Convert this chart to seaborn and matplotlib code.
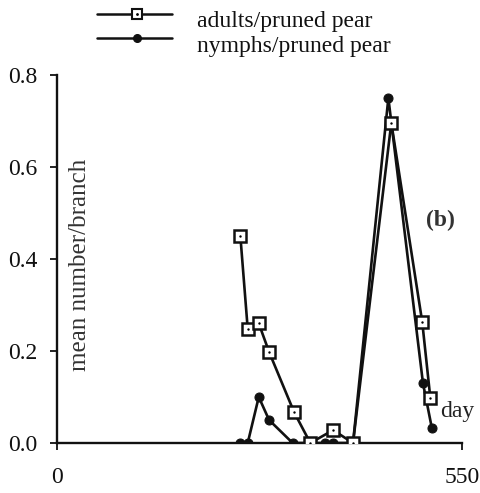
import matplotlib
matplotlib.use("Agg")
import matplotlib.pyplot as plt
import seaborn as sns
import pandas as pd
from matplotlib.lines import Line2D

# data
adult_days = [249, 259, 274, 288, 322, 344, 375, 402, 454, 496, 507]
adult_vals = [0.45, 0.248, 0.26, 0.198, 0.067, 0.0, 0.028, 0.0, 0.696, 0.263, 0.098]
nymph_days = [249, 259, 274, 288, 320, 344, 364, 375, 402, 450, 497, 509]
nymph_vals = [0.0, 0.0, 0.10, 0.05, 0.0, 0.0, 0.0, 0.0, 0.0, 0.75, 0.13, 0.033]
labels = ["adults/pruned pear", "nymphs/pruned pear"]
xticks = [0, 550]
yticks = [0.0, 0.2, 0.4, 0.6, 0.8]

sns.set_theme(style="ticks")
plt.rcParams["font.family"] = ["Liberation Serif", "DejaVu Serif"]

W, H = 481, 493
fig = plt.figure(figsize=(W / 100, H / 100), dpi=100)
ax = fig.add_axes([57 / W, 1 - 443 / H, 405 / W, 368 / H])

adf = pd.DataFrame({"day": adult_days, "val": adult_vals})
ndf = pd.DataFrame({"day": nymph_days, "val": nymph_vals})

sns.lineplot(data=ndf, x="day", y="val", ax=ax, color="#111111", lw=1.9,
             marker="o", markersize=6.5, markerfacecolor="#111111",
             markeredgecolor="#111111", zorder=3)
sns.lineplot(data=adf, x="day", y="val", ax=ax, color="#111111", lw=1.9,
             marker="s", markersize=8, markerfacecolor="white",
             markeredgecolor="#111111", markeredgewidth=1.8, zorder=4)
sns.scatterplot(data=adf, x="day", y="val", ax=ax, color="black", s=3,
                linewidth=0, zorder=5)

ax.set_xlim(0, 550)
ax.set_ylim(0, 0.8)
ax.set_xticks(xticks)
ax.set_xticklabels(["0", "550"])
ax.set_yticks(yticks)
ax.set_yticklabels(["0.0", "0.2", "0.4", "0.6", "0.8"])
ax.set_xlabel("")
ax.set_ylabel("")
sns.despine(ax=ax)
for s in ["left", "bottom"]:
    ax.spines[s].set_linewidth(1.7)
    ax.spines[s].set_color("#111111")
ax.tick_params(axis="both", direction="out", length=5, width=1.3,
               labelsize=17, colors="#111111")
ax.tick_params(axis="y", pad=9)
ax.tick_params(axis="x", pad=12)
ax.set_facecolor("white")

fig.text(80 / W, 1 - 265 / H, "mean number/branch", rotation=90,
         ha="center", va="center", fontsize=18, color="#333333")
fig.text(440 / W, 1 - 220 / H, "(b)", ha="center", va="center",
         fontsize=17, fontweight="bold", color="#333333")
fig.text(457 / W, 1 - 411 / H, "day", ha="center", va="center",
         fontsize=17, color="#222222")

# legend
for i, (lab, mk) in enumerate(zip(labels, ["s", "o"])):
    yy = 1 - (14 + 24 * i) / H
    fig.add_artist(Line2D([97 / W, 172 / W], [yy, yy], color="#111111", lw=1.8,
                          transform=fig.transFigure))
    if mk == "s":
        fig.add_artist(Line2D([137 / W], [yy], marker="s", markersize=7,
                              markerfacecolor="white", markeredgecolor="#111111",
                              markeredgewidth=1.5, transform=fig.transFigure))
        fig.add_artist(Line2D([137 / W], [yy], marker=".", markersize=2,
                              color="black", transform=fig.transFigure))
    else:
        fig.add_artist(Line2D([137 / W], [yy], marker="o", markersize=5.5,
                              color="#111111", transform=fig.transFigure))
    fig.text(197 / W, 1 - (27 + 25 * i) / H, lab, ha="left", va="baseline",
             fontsize=17, color="#111111")

fig.savefig("out.png", dpi=100, facecolor="white")
